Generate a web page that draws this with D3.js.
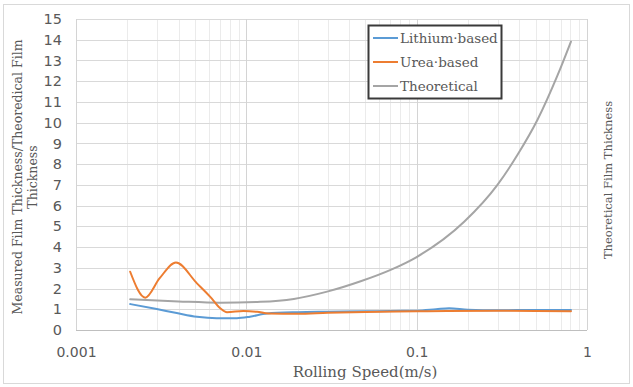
<!DOCTYPE html>
<html>
<head>
<meta charset="utf-8">
<script src="https://cdn.jsdelivr.net/npm/d3@7"></script>
<style>
  html, body { margin: 0; padding: 0; background: #fff; }
  svg { display: block; }
</style>
</head>
<body>
<svg id="chart" width="633" height="387"></svg>
<script>
// Rolling speed (m/s) sample points for each series
const lithiumSpeed = [0.00208, 0.00298, 0.0039, 0.00513, 0.0067, 0.0088, 0.0105, 0.0132, 0.02, 0.03, 0.05, 0.07, 0.1, 0.13, 0.155, 0.2, 0.3, 0.5, 0.805];
const lithiumValue = [1.25, 1.01, 0.82, 0.64, 0.57, 0.57, 0.64, 0.8, 0.86, 0.88, 0.9, 0.92, 0.93, 1.0, 1.05, 0.98, 0.95, 0.97, 0.97];

const ureaSpeed = [0.00208, 0.00255, 0.0031, 0.00386, 0.00513, 0.00614, 0.00703, 0.0077, 0.0096, 0.01157, 0.0135, 0.02, 0.03, 0.05, 0.1, 0.15, 0.3, 0.5, 0.805];
const ureaValue = [2.81, 1.56, 2.5, 3.25, 2.25, 1.6, 1.05, 0.86, 0.92, 0.88, 0.8, 0.78, 0.83, 0.87, 0.9, 0.92, 0.93, 0.92, 0.9];

const theoSpeed = [0.00208, 0.004, 0.007, 0.0121, 0.019, 0.0298, 0.0469, 0.0703, 0.1, 0.19, 0.298, 0.391, 0.513, 0.673, 0.805];
const theoValue = [1.48, 1.38, 1.32, 1.36, 1.5, 1.85, 2.35, 2.9, 3.52, 5.22, 7.0, 8.45, 10.15, 12.3, 13.91];

const seriesNames = ["Lithium·based", "Urea·based", "Theoretical"];
const seriesColors = ["#5b9bd5", "#ed7d31", "#a5a5a5"];

const xTickValues = [0.001, 0.01, 0.1, 1];
const xTickLabels = ["0.001", "0.01", "0.1", "1"];
const yTickValues = d3.range(0, 16);

const svg = d3.select("#chart");

// chart frame
svg.append("rect")
  .attr("x", 3.5).attr("y", 4.5).attr("width", 626).attr("height", 379)
  .attr("fill", "#fff").attr("stroke", "#d9d9d9").attr("stroke-width", 1);

const plot = { left: 76, right: 587, top: 19, bottom: 330 };

const x = d3.scaleLog().domain([0.001, 1]).range([plot.left, plot.right]);
const y = d3.scaleLinear().domain([0, 15]).range([plot.bottom, plot.top]);

// minor vertical grid (2..9 of each decade)
const minorX = [];
[0.001, 0.01, 0.1].forEach(d => { for (let k = 2; k <= 9; k++) minorX.push(d * k); });
svg.append("g").selectAll("line").data(minorX).join("line")
  .attr("x1", d => Math.round(x(d)) + 0.5).attr("x2", d => Math.round(x(d)) + 0.5)
  .attr("y1", plot.top).attr("y2", plot.bottom)
  .attr("stroke", "#ebebeb").attr("stroke-width", 1);

// horizontal grid
svg.append("g").selectAll("line").data(yTickValues.slice(1)).join("line")
  .attr("x1", plot.left).attr("x2", plot.right)
  .attr("y1", d => Math.round(y(d)) + 0.5).attr("y2", d => Math.round(y(d)) + 0.5)
  .attr("stroke", "#d9d9d9").attr("stroke-width", 1);

// major vertical grid
svg.append("g").selectAll("line").data(xTickValues).join("line")
  .attr("x1", d => Math.round(x(d)) + 0.5).attr("x2", d => Math.round(x(d)) + 0.5)
  .attr("y1", plot.top).attr("y2", plot.bottom)
  .attr("stroke", "#d4d4d4").attr("stroke-width", 1);

// x axis baseline
svg.append("line")
  .attr("x1", plot.left).attr("x2", plot.right)
  .attr("y1", plot.bottom + 0.5).attr("y2", plot.bottom + 0.5)
  .attr("stroke", "#bfbfbf").attr("stroke-width", 1);

// y axis
const yAxis = svg.append("g")
  .attr("transform", `translate(${plot.left},0)`)
  .call(d3.axisLeft(y).tickValues(yTickValues).tickSize(0).tickPadding(14));
yAxis.select(".domain").remove();
yAxis.selectAll("text")
  .attr("font-family", "DejaVu Sans, Verdana, sans-serif")
  .attr("font-size", 14.5).attr("fill", "#595959");

// x axis
const xAxis = svg.append("g")
  .attr("transform", `translate(0,${plot.bottom})`)
  .call(d3.axisBottom(x).tickValues(xTickValues).tickFormat((d, i) => xTickLabels[i]).tickSize(0).tickPadding(17));
xAxis.select(".domain").remove();
xAxis.selectAll("text")
  .attr("font-family", "DejaVu Sans, Verdana, sans-serif")
  .attr("font-size", 14).attr("fill", "#595959");

// series lines
const line = d3.line().x(d => x(d[0])).y(d => y(d[1])).curve(d3.curveMonotoneX);
const seriesData = [
  d3.zip(lithiumSpeed, lithiumValue),
  d3.zip(ureaSpeed, ureaValue),
  d3.zip(theoSpeed, theoValue)
];
// draw theoretical first, then measured
[2, 0, 1].forEach(i => {
  svg.append("path")
    .datum(seriesData[i])
    .attr("d", line)
    .attr("fill", "none")
    .attr("stroke", seriesColors[i])
    .attr("stroke-width", 2)
    .attr("stroke-linecap", "round");
});

// axis titles
const serif = "DejaVu Serif, Liberation Serif, serif";
svg.append("text")
  .attr("x", 365).attr("y", 377)
  .attr("text-anchor", "middle")
  .attr("font-family", serif).attr("font-size", 15).attr("fill", "#595959")
  .text("Rolling Speed(m/s)");

const leftTitle = svg.append("text")
  .attr("transform", "translate(0,177) rotate(-90)")
  .attr("text-anchor", "middle")
  .attr("font-family", serif).attr("font-size", 12.5).attr("fill", "#595959");
leftTitle.append("tspan").attr("x", 0).attr("y", 22).text("Measured Film Thickness/Theoredical Film");
leftTitle.append("tspan").attr("x", 0).attr("y", 37).text("Thickness");

svg.append("text")
  .attr("transform", "translate(612,180) rotate(-90)")
  .attr("text-anchor", "middle")
  .attr("font-family", serif).attr("font-size", 11.5).attr("fill", "#595959")
  .text("Theoretical Film Thickness");

// legend
const legend = svg.append("g");
legend.append("rect")
  .attr("x", 368.5).attr("y", 25.5).attr("width", 133).attr("height", 73)
  .attr("fill", "#fff").attr("stroke", "#3a3a3a").attr("stroke-width", 2);
const rowY = [38, 62, 86];
seriesNames.forEach((name, i) => {
  legend.append("line")
    .attr("x1", 373).attr("x2", 398)
    .attr("y1", rowY[i]).attr("y2", rowY[i])
    .attr("stroke", seriesColors[i]).attr("stroke-width", 2);
  legend.append("text")
    .attr("x", 400).attr("y", rowY[i] + 5)
    .attr("font-family", serif).attr("font-size", 13.5).attr("fill", "#595959")
    .text(name);
});
</script>
</body>
</html>
